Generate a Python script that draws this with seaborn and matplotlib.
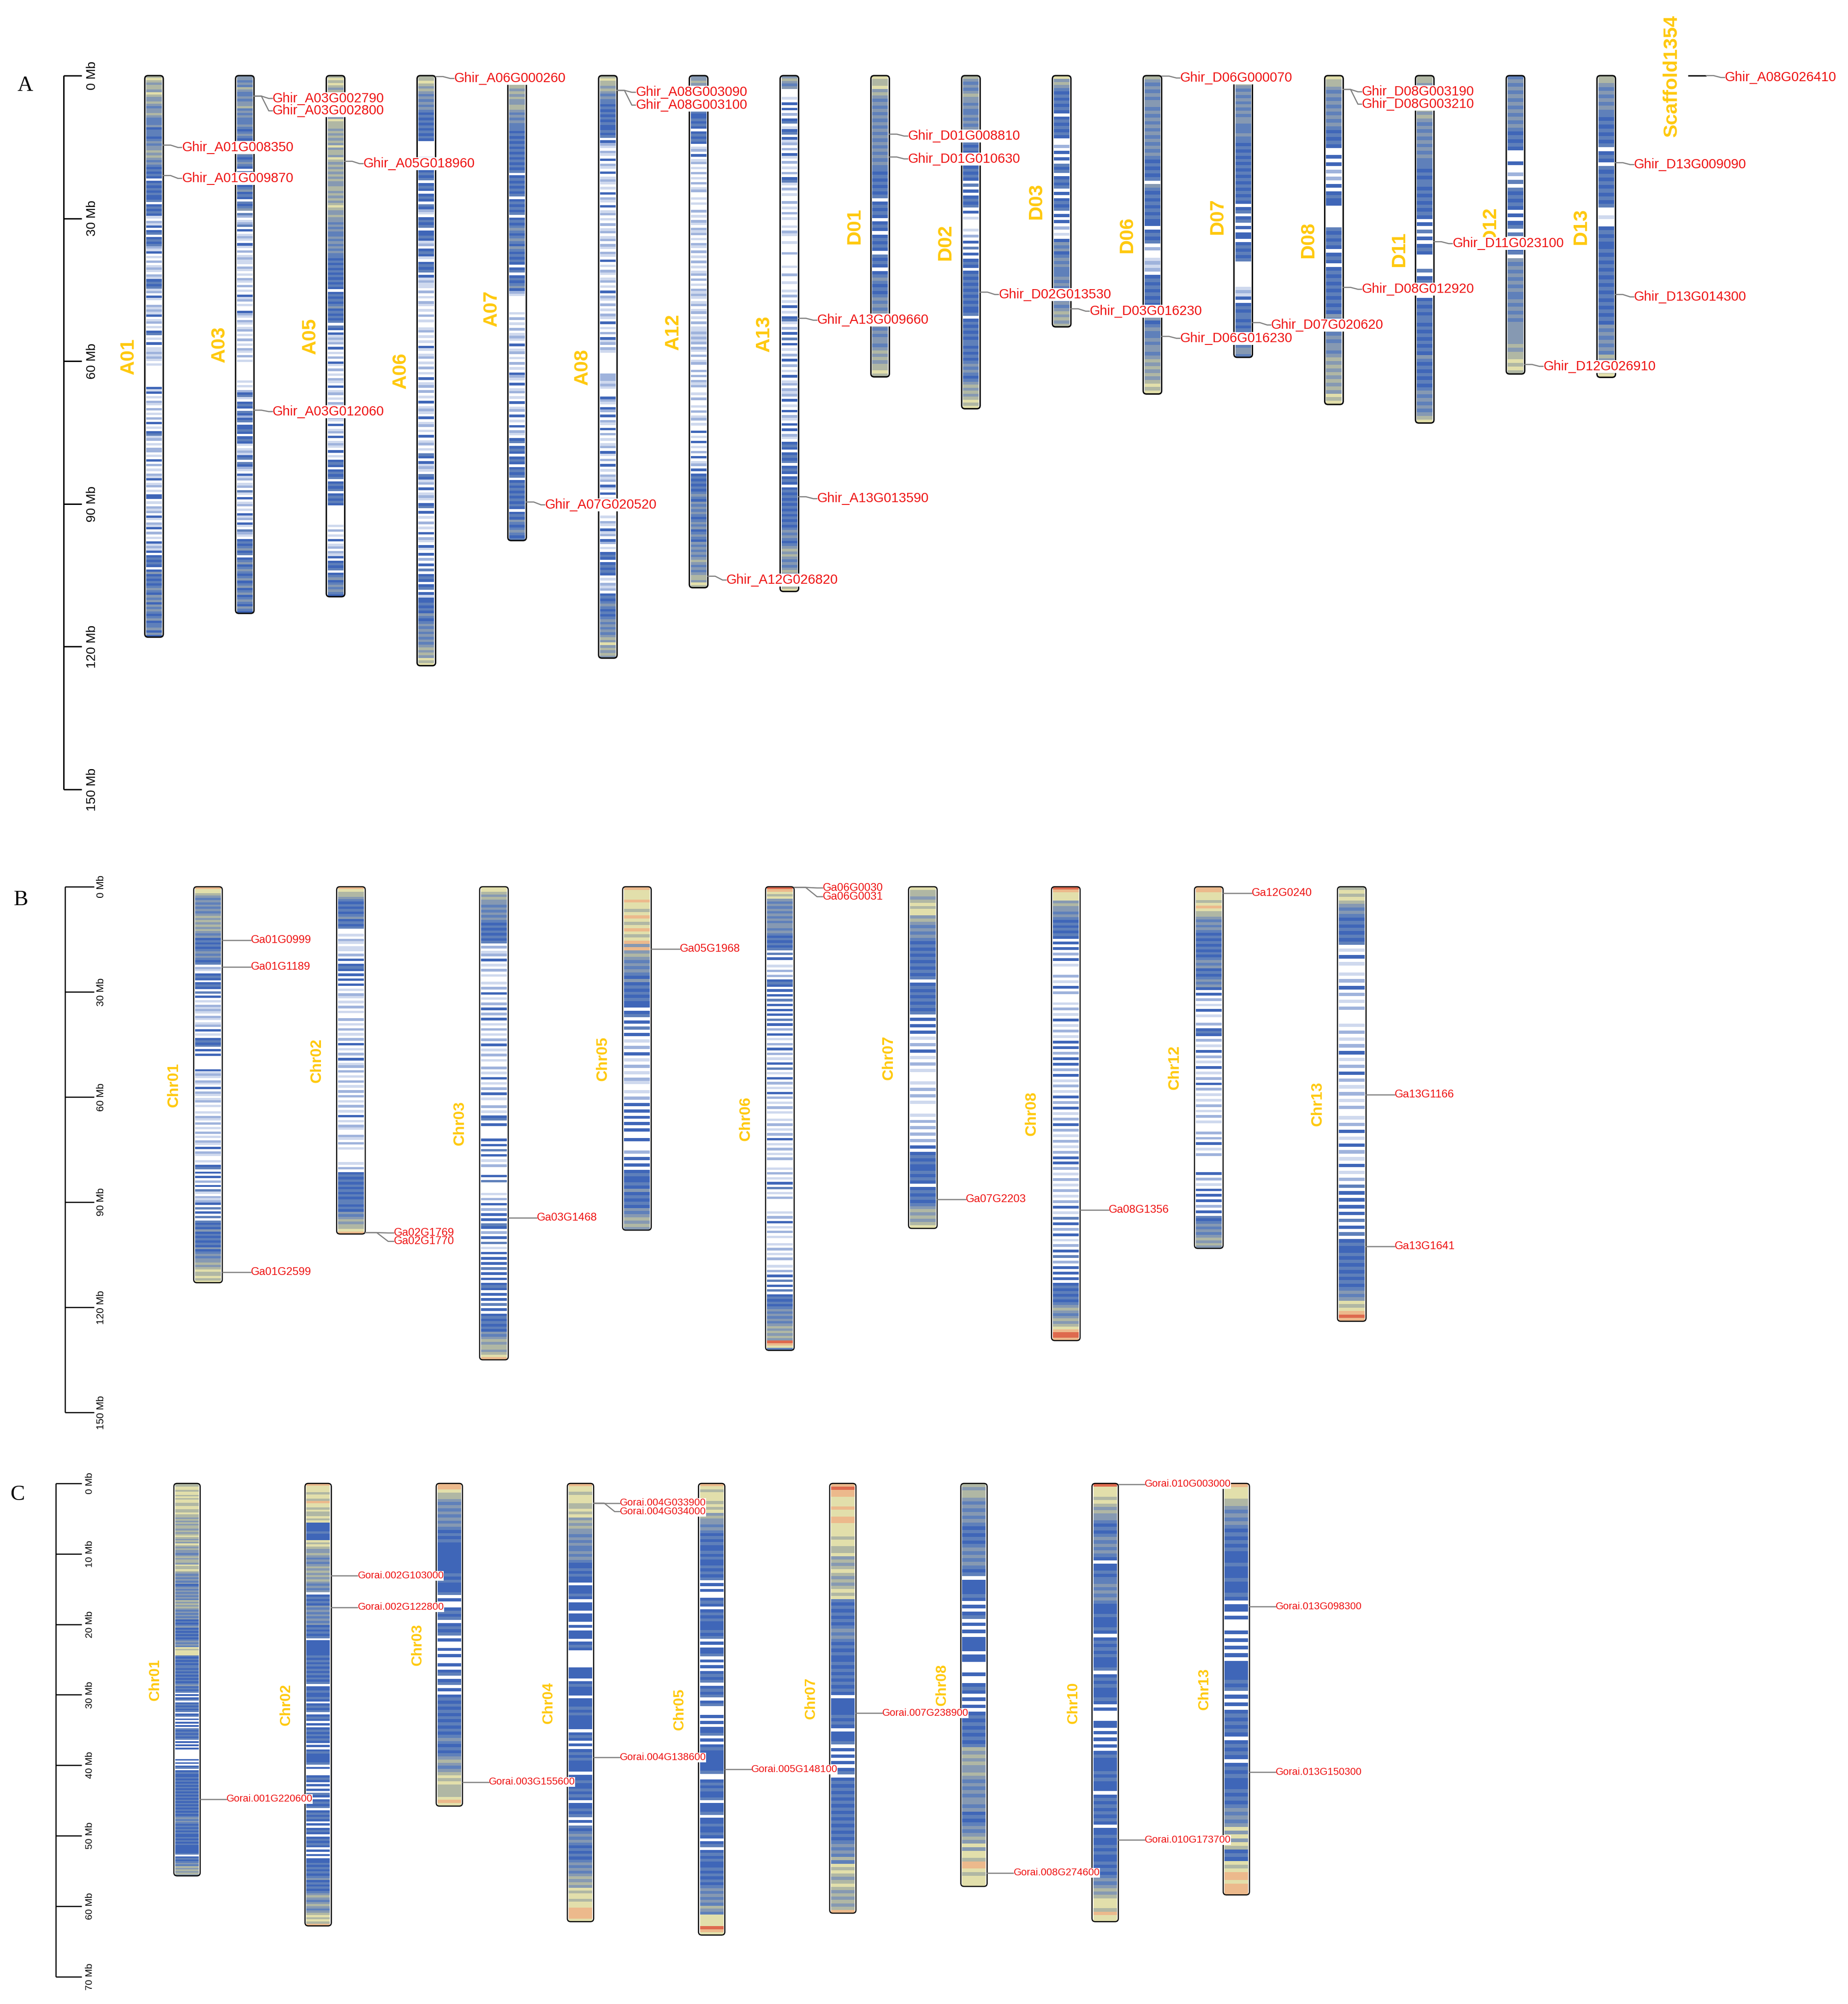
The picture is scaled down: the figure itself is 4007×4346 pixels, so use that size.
import numpy as np
import pandas as pd
import seaborn as sns
import matplotlib.pyplot as plt
from matplotlib.colors import ListedColormap
from matplotlib.patches import FancyBboxPatch, Rectangle
from matplotlib.transforms import IdentityTransform

FIG_W, FIG_H = 4007, 4346
DPI = 100

# density levels: white -> blue -> grey -> khaki -> red
level_colors = ["#ffffff", "#cfd9ee", "#9fb3dc", "#3f66b8", "#5f80ba", "#8699b2",
                "#b0b7a4", "#e2dfab", "#ecb98c", "#de6a4e"]

# Panel A
a_names = ["A01", "A03", "A05", "A06", "A07", "A08", "A12", "A13", "D01", "D02", "D03",
           "D06", "D07", "D08", "D11", "D12", "D13"]
a_lengths = [118, 113, 109.5, 124, 97.7, 122.4, 107.6, 108.4, 63.3, 70, 52.8, 66.9, 59.2, 69.1, 73, 62.7, 63.4]
a_density = [
    "67656657655654556544"  "45344434545565654543"  "43430343434334034343"  "10213034034342130102"  "01210213434120310021"
    "21301201034010301121"  "21010000000003130102"  "10201020301034120102"  "20103020102130120103"  "30102120310213020103"
    "12130343430353434345"  "43545354543453445353",
    "55454654454556454544"  "45434543540345434543"  "04345103453430434504"  "20124030121031020121"  "10210102102010312010"
    "03210210120102010210"  "20100000000101023410"  "34304323403343034310"  "12134043210312012041"  "03012010312031042103"
    "43453403453454345345"  "34534543543",
    "67676565676566766576"  "66565656575665765656"  "56565566565656765565"  "54545445454545443434"  "34343434303434345343"
    "43404303121203010203"  "10201021030120102103"  "01210301203012103010"  "34303434034340343430"  "00000001020103012021"
    "30343403453454543",
    "66765654545454343434"  "34343000000134343434"  "03430343043210343403"  "34312034310343403121"  "10201021010201001201"
    "01031012010201030120"  "20103012103012010301"  "20104303121043120301"  "21034030102010302103"  "10302030403430340313"
    "34343543454545454565"  "65767",
    "66766565655665454544"  "43434343434343434034"  "34343403434340343454"  "34543543434303403434"  "53210000001020102012"
    "10301201020103210301"  "20103012030103021034"  "03430343034340343434"  "34343034354345434",
    "67665654544343434343"  "34340321021030210301"  "21010302103012010201"  "20120210210301021012"  "01030210201021030102"
    "03120210000000022212"  "10003210320302103020"  "10120310203010212031"  "03010201001021031203"  "20103430343430102120"
    "34345434345454545657"  "56565",
    "55654345434343433434"  "30343430120301201020"  "10201200101002010210"  "21201021020102010120"  "20102121012012010201"
    "12121202102012002020"  "21200102001020120100"  "30103010203012030343"  "43434543545454345453"  "45435454545654545665"
    "76",
    "56545000103030203401"  "34031202031020102034"  "10201002010201001021"  "00100020000100200100"  "10201030103410203040"
    "30102030201030120212"  "03010302103030210343"  "03434034303430343434"  "34343434345454345656"  "5454565656767",
    "76675654545454545454"  "54545454434343434034"  "34303430343430434303"  "45434345454543454545"  "54565656676",
    "65454565545445454545"  "43434343403434304030"  "34340301000102030403"  "03430343434343434334"  "03434343443434345454"
    "34565656767",
    "75654343434303434343"  "00203030434034340303"  "43403030201035453454"  "54445454545454565656",
    "65454545545454545454"  "54543434340543434343"  "43303434020012120343"  "43434344353454454554"  "56565656767",
    "66654545454545544454"  "43434343434343434343"  "03403403033034343400"  "00000012130343443434"  "34354554",
    "76654545454545434343"  "00303020203034330000"  "00434343034303434343"  "43434354545454554565"  "65656565767",
    "66565656565654545454"  "54544434344343434343"  "03040303430000403434"  "30343434434343434354"  "34343434545454567",
    "45454545454545434343"  "00030020404343430303"  "40403034054545454544"  "54545455555565667676",
    "66545454544343434340"  "34304343434343400100"  "34343343434343434343"  "43434354545454655667",
]
a_gene_chr = ["A01", "A01", "A03", "A03", "A03", "A05", "A06", "A07", "A08", "A08", "A12", "A13", "A13",
              "D01", "D01", "D02", "D03", "D06", "D06", "D07", "D08", "D08", "D08", "D11", "D12", "D13", "D13", "Scaffold1354"]
a_gene_name = ["Ghir_A01G008350", "Ghir_A01G009870", "Ghir_A03G002790", "Ghir_A03G002800", "Ghir_A03G012060",
               "Ghir_A05G018960", "Ghir_A06G000260", "Ghir_A07G020520", "Ghir_A08G003090", "Ghir_A08G003100",
               "Ghir_A12G026820", "Ghir_A13G009660", "Ghir_A13G013590", "Ghir_D01G008810", "Ghir_D01G010630",
               "Ghir_D02G013530", "Ghir_D03G016230", "Ghir_D06G000070", "Ghir_D06G016230", "Ghir_D07G020620",
               "Ghir_D08G003190", "Ghir_D08G003210", "Ghir_D08G012920", "Ghir_D11G023100", "Ghir_D12G026910",
               "Ghir_D13G009090", "Ghir_D13G014300", "Ghir_A08G026410"]
a_gene_pos = [14.6, 21.0, 4.3, 4.3, 70.3, 18.0, 0.2, 89.6, 3.1, 3.1, 105.2, 51.0, 88.5, 12.3, 17.1, 45.5, 49.0, 0.1, 54.8,
              51.9, 2.9, 2.9, 44.5, 34.9, 60.7, 18.3, 46.0, 0.0]
a_gene_lab = [15.1, 21.6, 4.8, 7.4, 70.6, 18.5, 0.6, 90.2, 3.5, 6.2, 106.0, 51.4, 88.9, 12.7, 17.5, 46.0, 49.5, 0.5, 55.2,
              52.4, 3.4, 6.0, 44.9, 35.3, 61.1, 18.7, 46.5, 0.4]
a_ticks = [0, 30, 60, 90, 120, 150]

# Panel B
b_names = ["Chr01", "Chr02", "Chr03", "Chr05", "Chr06", "Chr07", "Chr08", "Chr12", "Chr13"]
b_lengths = [113, 99.1, 135, 98, 132.3, 97.5, 129.5, 103.2, 124]
b_density = [
    "8776545454545656565"  "6545343434545434021"  "0343034304030102121"  "0210120301034340303"  "0000003121021030210"
    "1201001021020102010"  "2103021001034030302"  "0304102123040304043"  "4353434343534545565"  "6766767",
    "8766543434345343400"  "1021011020303430303"  "0301021010201002010"  "2010203010203012020"  "1020102020102010301"
    "0210021020100000102"  "0343434343434434354"  "5656678",
    "7765655454545434343"  "4340201203010201001"  "0203010203020301020"  "1020301020100201030"  "1020301002010340300"
    "0003030403010200030"  "4000010203020303043"  "0203040103030304030"  "3034303030403034343"  "4354565665678",
    "8777877678767876785"  "8565454543534343433"  "0340304030102030102"  "0102100102030303030"  "3003000203030343343"
    "5343435456565",
    "9876754545454545545"  "4343434040300102020"  "3430303040303030403"  "0203010203020103040"  "1030201030201020100"
    "1020102030102010200"  "0102010304010200000"  "1020301020100102010"  "2001020304030403434"  "3454545456565659874",
    "7665676775654545434"  "3434343434034343434"  "3403030301020301020"  "1000102020100010202"  "0202030343433434303"
    "434345656567",
    "9877756554543434343"  "0303020301000201030"  "2000102010301020103"  "0302030302030102010"  "3020301020302010201"
    "0203030201020102010"  "2030104030203010203"  "0402030303034343434"  "5654565678998",
    "8877767876654545434"  "3434343454534345453"  "0302010301002034302"  "0103020103010203020"  "1010201020100020203"
    "0102000000302010303"  "0302030434545456565",
    "6767654543434343401"  "0301001020302010200"  "0010201020301020302"  "0102010200102030103"  "0201030102040303030"
    "3040304034334343434"  "3434545767898",
]
b_gene_chr = ["Chr01", "Chr01", "Chr01", "Chr02", "Chr02", "Chr03", "Chr05", "Chr06", "Chr06", "Chr07", "Chr08", "Chr12", "Chr13", "Chr13"]
b_gene_name = ["Ga01G0999", "Ga01G1189", "Ga01G2599", "Ga02G1769", "Ga02G1770", "Ga03G1468", "Ga05G1968", "Ga06G0030",
               "Ga06G0031", "Ga07G2203", "Ga08G1356", "Ga12G0240", "Ga13G1166", "Ga13G1641"]
b_gene_pos = [15.3, 22.9, 110, 98.7, 98.7, 94.5, 17.8, 0.2, 0.2, 89.2, 92.2, 1.9, 59.4, 102.6]
b_gene_lab = [15.3, 22.9, 110, 98.8, 101.2, 94.5, 17.8, 0.35, 2.85, 89.2, 92.2, 1.9, 59.4, 102.6]
b_ticks = [0, 30, 60, 90, 120, 150]

# Panel C
c_names = ["Chr01", "Chr02", "Chr03", "Chr04", "Chr05", "Chr07", "Chr08", "Chr10", "Chr13"]
c_lengths = [55.7, 62.8, 45.8, 62.2, 64.1, 61, 57.2, 62.2, 58.4]
c_density = [
    "66776776767766776676656565665656765657656554565665766765454545345454545465656545454534345343434345454767774343434434343434345343403034034343403403030304343434030303000000303034034334343434343434343434343434545434343433434343333340343454656565",
    "87776776877676676733334333767655654545656565654545034343545454545343434033333334343434343434033433430343403430303434343030343333403000343030304303434034343030343034343030303343434345343434565456545676768",
    "88766545454545434343333333333434333403003434034340300303003034034030343434343434345434345654567676666787",
    "87767776676756565545454454543343433033343033303330303330343000000333303433303334343333303430303434333303343343430334340304345454343434545456565767767788887",
    "8767776767565545434343343433434340303003430343433343403033403030343403434034000303033403034333333340034343340333403343343034034343343434345454546547777987",
    "8988777877887777677667565676565676743434343454543434334343434343033333434303334030303034034343434343434343434545464767656765656568",
    "65665454545434343454545434033334303034030303333033000300343030303434343434656565565454545545343454565757768876777",
    "97776765655434345454543033434454545433343334303434343334034343334303000330303030343333434333034343434303343343433434345456567776877",
    "8777665454543434343334333433343033030003030303033333434030303434343034343034343334343454545757576343767887888",
]
c_gene_chr = ["Chr01", "Chr02", "Chr02", "Chr03", "Chr04", "Chr04", "Chr04", "Chr05", "Chr07", "Chr08", "Chr10", "Chr10", "Chr13", "Chr13"]
c_gene_name = ["Gorai.001G220600", "Gorai.002G103000", "Gorai.002G122800", "Gorai.003G155600", "Gorai.004G033900",
               "Gorai.004G034000", "Gorai.004G138600", "Gorai.005G148100", "Gorai.007G238900", "Gorai.008G274600",
               "Gorai.010G003000", "Gorai.010G173700", "Gorai.013G098300", "Gorai.013G150300"]
c_gene_pos = [44.8, 13.1, 17.6, 42.4, 2.8, 2.8, 38.9, 40.6, 32.6, 55.3, 0.1, 50.6, 17.5, 41]
c_gene_lab = [44.8, 13.1, 17.6, 42.4, 2.8, 4.0, 38.9, 40.6, 32.6, 55.3, 0.1, 50.6, 17.5, 41]
c_ticks = [0, 10, 20, 30, 40, 50, 60, 70]


def px(v):
    # pixels to points at the output dpi
    return v * 72 / DPI


def draw_panel(fig, names, lengths, density, gene_chr, gene_name, gene_pos, gene_lab, ticks,
               letter, letter_xy, top, scale, x0, dx, width, scale_x, tick_end, tick_text_x, tick_fs,
               name_off, name_fs, gene_off, gene_fs, line_w):
    ax = fig.add_axes([0, 0, 1, 1])
    ax.set_xlim((0 - x0) / dx, (FIG_W - x0) / dx)
    ax.set_ylim((FIG_H - top) / scale, -top / scale)
    ax.axis("off")
    ux = 1 / dx      # one pixel in x data units
    uy = 1 / scale   # one pixel in y data units
    cmap = ListedColormap(level_colors)

    pos = {n: i for i, n in enumerate(names)}
    for i, (n, L, d) in enumerate(zip(names, lengths, density)):
        ax.text(i - name_off * ux, L / 2, n, rotation=90, ha="center", va="center",
                color="#ffc90e", fontsize=px(name_fs), fontweight="bold", zorder=4)
        if d is None:
            # scaffold too short to show stripes, just a bar
            ax.hlines(0, i - width / 2 * ux, i + width / 2 * ux, color="black", lw=px(line_w), zorder=3)
            continue
        # the main axes fills the figure, so the stripes sit in figure fractions
        left = (x0 + i * dx - width / 2 + 3) / FIG_W
        bottom = 1 - (top + L * scale) / FIG_H
        body = ax.inset_axes([left, bottom, (width - 6) / FIG_W, L * scale / FIG_H], zorder=2)
        df = pd.DataFrame(np.array([int(c) for c in d]).reshape(-1, 1))
        sns.heatmap(df, ax=body, cmap=cmap, vmin=-0.5, vmax=9.5, cbar=False,
                    xticklabels=False, yticklabels=False)
        ax.add_patch(FancyBboxPatch((i - width / 2 * ux, 0), width * ux, L,
                                    boxstyle=f"round,pad=0,rounding_size={7 * ux}",
                                    mutation_aspect=dx / scale, fc="none", ec="black",
                                    lw=px(line_w), zorder=3))

    # scale bar on the left
    sx = (scale_x - x0) * ux
    ax.vlines(sx, ticks[0], ticks[-1], color="black", lw=px(line_w), zorder=3)
    ax.hlines(ticks, sx, (tick_end - x0) * ux, color="black", lw=px(line_w), zorder=3)
    for t in ticks:
        ax.text((tick_text_x - x0) * ux, t, f"{t} Mb", rotation=90, ha="center", va="center",
                fontsize=px(tick_fs), color="black", zorder=4)
    ax.text((letter_xy[0] - x0) * ux, (letter_xy[1] - top) * uy, letter, ha="center", va="center",
            family="Liberation Serif", fontsize=px(47), color="black")

    # gene labels, a white box under each one hides the neighbouring chromosome
    renderer = fig.canvas.get_renderer()
    for c, g, p, l in zip(gene_chr, gene_name, gene_pos, gene_lab):
        i = pos[c]
        edge = i + width / 2 * ux
        ax.plot([edge, edge + 0.4 * gene_off * ux, edge + 0.8 * gene_off * ux, edge + gene_off * ux],
                [p, p, l, l], color="#7f7f7f", lw=px(2.5), zorder=5, solid_joinstyle="round")
        t = ax.text(edge + gene_off * ux, l, g, ha="left", va="center", color="#ee1111",
                    fontsize=px(gene_fs), zorder=6)
        bb = t.get_window_extent(renderer)
        ax.add_patch(Rectangle((bb.x0, bb.y0), bb.width, bb.height, transform=IdentityTransform(),
                               fc="white", ec="none", zorder=4.5))
    return ax


sns.set_theme(style="white")
plt.rcParams["font.family"] = ["Liberation Sans", "DejaVu Sans"]

fig = plt.figure(figsize=(FIG_W / DPI, FIG_H / DPI), dpi=DPI, facecolor="white")

draw_panel(fig, a_names + ["Scaffold1354"], a_lengths + [0.15], a_density + [None],
           a_gene_chr, a_gene_name, a_gene_pos, a_gene_lab, a_ticks,
           "A", (55, 186), 164, 10.32, 334, 196.8, 40, 138, 177, 200, 28, 55, 43, 40, 29, 3)
draw_panel(fig, b_names, b_lengths, b_density, b_gene_chr, b_gene_name, b_gene_pos, b_gene_lab, b_ticks,
           "B", (45, 1952), 1923, 7.6, 451, 310, 62, 141, 204, 220, 22, 74, 34, 62, 24, 2.5)
draw_panel(fig, c_names, c_lengths, c_density, c_gene_chr, c_gene_name, c_gene_pos, c_gene_lab, c_ticks,
           "C", (38, 3242), 3217, 15.28, 405.5, 284.4, 57, 120.5, 177, 194, 21, 69, 32, 57, 22, 2.5)

plt.savefig("out.png", dpi=DPI)
plt.close()
